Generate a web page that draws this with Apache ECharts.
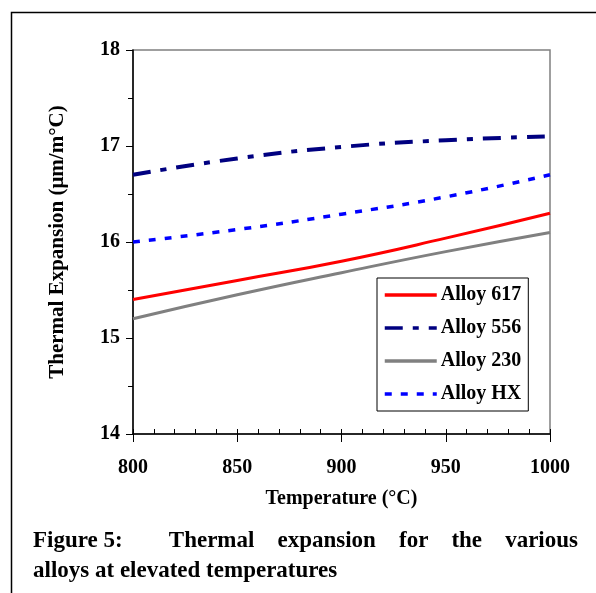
<!DOCTYPE html>
<html>
<head>
<meta charset="utf-8">
<script src="https://cdn.jsdelivr.net/npm/echarts@6/dist/echarts.min.js"></script>
<style>
  html, body { margin: 0; padding: 0; background: #fff; }
  #main { width: 596px; height: 593px; }
</style>
</head>
<body>
<div id="main"></div>
<script>
// temperatures (deg C)
var temps = [800, 850, 900, 950, 1000]
// thermal expansion, um/m C
var alloy617 = [15.4, 15.6, 15.8, 16.04, 16.3]
var alloy556 = [16.7, 16.87, 16.99, 17.06, 17.1]
var alloy230 = [15.2, 15.45, 15.68, 15.9, 16.1]
var alloyHX = [16.0, 16.13, 16.29, 16.47, 16.7]
var names = ['Alloy 617', 'Alloy 556', 'Alloy 230', 'Alloy HX']

function pairs (vals) {
  return temps.map(function (t, i) { return [t, vals[i]] })
}

var chartDom = document.getElementById('main')
var myChart = echarts.init(chartDom)
var font = '"Liberation Serif", "Times New Roman", serif'
var captionFont = 'bold 23px ' + font
var option

// caption first line is justified between x=33 and x=578
var captionWords = ['Figure 5:', 'Thermal', 'expansion', 'for', 'the', 'various']
var ctx = document.createElement('canvas').getContext('2d')
ctx.font = captionFont
var widths = captionWords.map(function (w) { return ctx.measureText(w).width })
var total = widths.reduce(function (a, b) { return a + b }, 0)
var unit = (578 - 33 - total) / 6 // first gap is a double space

var graphics = [{
  type: 'rect',
  shape: { x: 11.5, y: 12.5, width: 700, height: 700 },
  style: { fill: 'none', stroke: '#000', lineWidth: 1.5 },
  silent: true
}]
var x = 33
captionWords.forEach(function (w, i) {
  graphics.push({
    type: 'text', left: x, top: 530,
    style: { text: w, font: captionFont, fill: '#000' }
  })
  x += widths[i] + (i === 0 ? 2 * unit : unit)
})
graphics.push({
  type: 'text', left: 33, top: 560,
  style: { text: 'alloys at elevated temperatures', font: captionFont, fill: '#000' }
})

var seriesStyle = [
  { color: '#ff0000', width: 3, type: 'solid' },
  { color: '#000080', width: 4, type: [18, 10, 6, 10] },
  { color: '#808080', width: 3, type: 'solid' },
  { color: '#0000ff', width: 3.5, type: [7, 9] }
]
var allData = [alloy617, alloy556, alloy230, alloyHX]

option = {
  animation: false,
  graphic: graphics,
  grid: {
    left: 133, top: 50, width: 417, height: 384,
    show: true, borderColor: '#808080', borderWidth: 1.5
  },
  legend: {
    orient: 'vertical',
    left: 377, top: 278,
    padding: [7, 7, 7, 6],
    itemGap: 13,
    itemWidth: 52,
    itemHeight: 14,
    borderColor: '#000',
    borderWidth: 1,
    backgroundColor: '#fff',
    itemStyle: { opacity: 0 },
    lineStyle: { width: 3.5 },
    data: names,
    textStyle: { fontFamily: font, fontWeight: 'bold', fontSize: 20, color: '#000', padding: [0, 0, 0, -1] }
  },
  xAxis: [{
    type: 'value',
    min: 800, max: 1000, interval: 50,
    name: 'Temperature (°C)',
    nameLocation: 'middle',
    nameGap: 55,
    nameTextStyle: { fontFamily: font, fontWeight: 'bold', fontSize: 20, color: '#000' },
    axisLine: { onZero: false, lineStyle: { color: '#000', width: 1.5 } },
    axisTick: { length: 8, lineStyle: { color: '#000' } },
    axisLabel: {
      margin: 24, fontFamily: font, fontWeight: 'bold', fontSize: 20, color: '#000',
      formatter: function (v) { return String(v) }
    },
    splitLine: { show: false }
  }, {
    type: 'value',
    position: 'bottom',
    min: 800, max: 1000, interval: 10,
    axisLine: { show: false },
    axisTick: { inside: true, length: 5, lineStyle: { color: '#000' } },
    axisLabel: { show: false },
    splitLine: { show: false }
  }],
  yAxis: {
    type: 'value',
    min: 14, max: 18, interval: 1,
    name: 'Thermal Expansion (μm/m°C)',
    nameLocation: 'middle',
    nameGap: 65,
    nameTextStyle: { fontFamily: font, fontWeight: 'bold', fontSize: 21, color: '#000' },
    axisLine: { show: true, lineStyle: { color: '#000', width: 1.5 } },
    axisTick: { length: 7, lineStyle: { color: '#000' } },
    minorTick: { show: true, splitNumber: 2, length: 5, lineStyle: { color: '#000' } },
    axisLabel: { margin: 13, fontFamily: font, fontWeight: 'bold', fontSize: 20, color: '#000' },
    splitLine: { show: false }
  },
  series: names.map(function (n, i) {
    return {
      name: n,
      type: 'line',
      smooth: true,
      symbol: 'none',
      data: pairs(allData[i]),
      itemStyle: { color: seriesStyle[i].color },
      lineStyle: seriesStyle[i]
    }
  })
}
option && myChart.setOption(option)
window.addEventListener('resize', () => myChart.resize())
</script>
</body>
</html>
